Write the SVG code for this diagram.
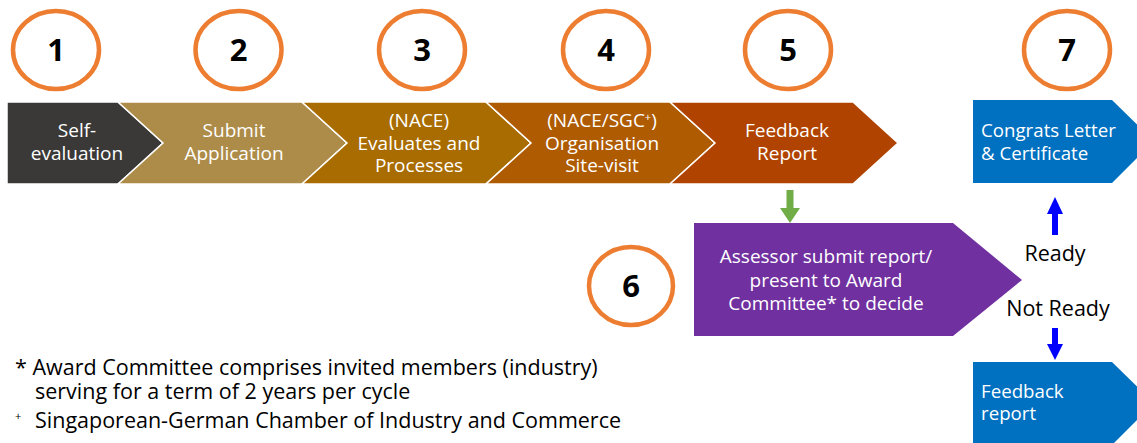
<svg xmlns="http://www.w3.org/2000/svg" width="1137" height="443" viewBox="0 0 1137 443">
<style>
.c{fill:#fff;stroke:#ED7D31;stroke-width:4.5}
.n{font-family:"Open Sans","Liberation Sans",sans-serif;font-weight:bold;font-size:31px;fill:#000;text-anchor:middle}
.t{font-family:"Open Sans","Liberation Sans",sans-serif;font-size:19px;fill:#fff;text-anchor:middle}
.tl{font-family:"Open Sans","Liberation Sans",sans-serif;font-size:18.7px;fill:#fff}
.k{font-family:"Open Sans","Liberation Sans",sans-serif;font-size:21.5px;fill:#000}
.f{font-family:"Open Sans","Liberation Sans",sans-serif;font-size:21.5px;fill:#000}
.ch{stroke:#fff;stroke-width:1.5}
</style>
<rect width="1137" height="443" fill="#fff"/>
<g id="step1">
<ellipse class="c" cx="56" cy="50" rx="43" ry="39"/>
<text class="n" x="56" y="61">1</text>
<polygon class="ch" fill="#3B3838" points="7,102 118,102 163,143 118,184 7,184"/>
<text class="t" x="77" y="137">Self-</text>
<text class="t" x="77" y="160">evaluation</text>
</g>
<g id="step2">
<ellipse class="c" cx="238.5" cy="50" rx="43" ry="39"/>
<text class="n" x="238.5" y="61">2</text>
<polygon class="ch" fill="#AD8B48" points="118,102 302,102 347,143 302,184 118,184 163,143"/>
<text class="t" x="234" y="137">Submit</text>
<text class="t" x="234" y="160">Application</text>
</g>
<g id="step3">
<ellipse class="c" cx="422" cy="50" rx="43" ry="39"/>
<text class="n" x="422" y="61">3</text>
<polygon class="ch" fill="#A86C00" points="302,102 486,102 531,143 486,184 302,184 347,143"/>
<text class="t" x="419" y="127">(NACE)</text>
<text class="t" x="419" y="150">Evaluates and</text>
<text class="t" x="419" y="172">Processes</text>
</g>
<g id="step4">
<ellipse class="c" cx="606" cy="50" rx="43" ry="39"/>
<text class="n" x="606" y="61">4</text>
<polygon class="ch" fill="#AE5B02" points="486,102 670,102 715,143 670,184 486,184 531,143"/>
<text class="t" x="602" y="127">(NACE/SGC<tspan font-size="11" dy="-6">+</tspan><tspan dy="6">)</tspan></text>
<text class="t" x="602" y="150">Organisation</text>
<text class="t" x="602" y="172">Site-visit</text>
</g>
<g id="step5">
<ellipse class="c" cx="788" cy="50" rx="43" ry="39"/>
<text class="n" x="788" y="61">5</text>
<polygon class="ch" fill="#B04300" points="670,102 853,102 898,143 853,184 670,184 715,143"/>
<text class="t" x="787" y="137">Feedback</text>
<text class="t" x="787" y="160">Report</text>
</g>
<g id="step6">
<ellipse class="c" cx="631" cy="286" rx="42" ry="39"/>
<text class="n" x="631" y="297">6</text>
<polygon fill="#7030A0" points="694,223 953,223 1022,280 953,336 694,336"/>
<text class="t" x="826" y="263">Assessor submit report/</text>
<text class="t" x="826" y="287">present to Award</text>
<text class="t" x="826" y="310">Committee* to decide</text>
</g>
<g id="step7">
<ellipse class="c" cx="1067" cy="50" rx="43" ry="39"/>
<text class="n" x="1067" y="61">7</text>
<polygon fill="#0070C0" points="973,100 1112,100 1154,141 1112,183 973,183"/>
<text class="tl" x="981" y="137">Congrats Letter</text>
<text class="tl" x="981" y="160">&amp; Certificate</text>
</g>
<g id="feedback">
<polygon fill="#0070C0" points="973,362 1112,362 1154,403 1112,445 973,445"/>
<text class="tl" x="981" y="398">Feedback</text>
<text class="tl" x="981" y="420">report</text>
</g>
<g id="connectors">
<polygon fill="#70AD47" points="786.5,190 793.5,190 793.5,208 800,208 790,223 780,208 786.5,208"/>
<polygon fill="#0000FF" points="1055,197 1063,214 1058,214 1058,235 1052,235 1052,214 1047,214"/>
<polygon fill="#0000FF" points="1052,328 1058,328 1058,344 1063,344 1055,360 1047,344 1052,344"/>
<text class="k" x="1055" y="261" text-anchor="middle">Ready</text>
<text class="k" x="1058" y="316" text-anchor="middle">Not Ready</text>
</g>
<g id="notes">
<text class="f" x="15" y="375">* Award Committee comprises invited members (industry)</text>
<text class="f" x="35" y="399">serving for a term of 2 years per cycle</text>
<text class="f" x="15" y="428"><tspan font-size="11" dy="-8">+</tspan><tspan x="35" dy="8">Singaporean-German Chamber of Industry and Commerce</tspan></text>
</g>
</svg>
